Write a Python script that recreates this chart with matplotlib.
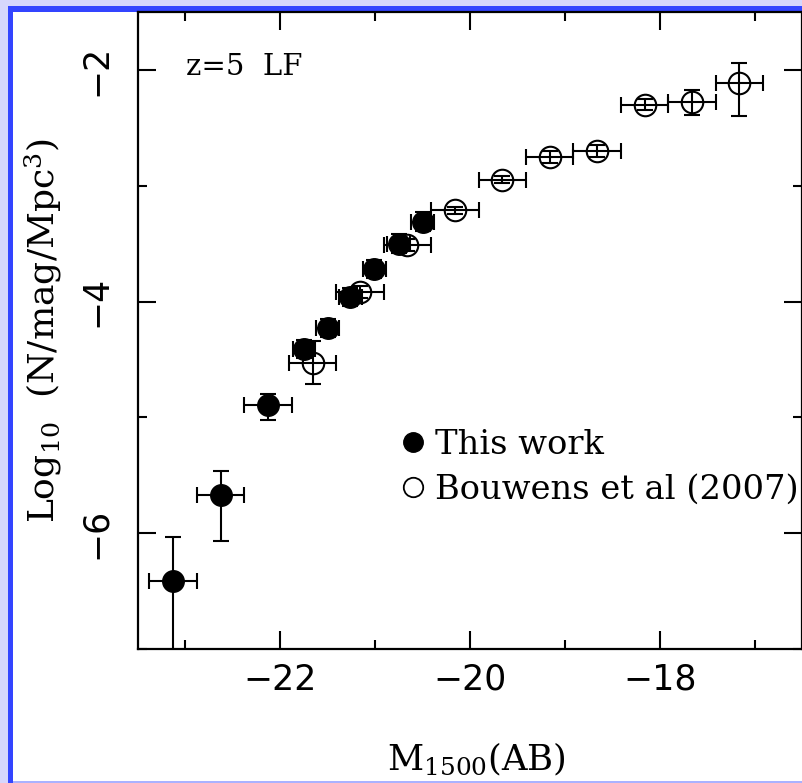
import matplotlib
matplotlib.use("Agg")
import matplotlib.pyplot as plt
from matplotlib.patches import Rectangle
from matplotlib.lines import Line2D
from matplotlib.ticker import MultipleLocator

# This work (filled)
mag_this = [-23.13, -22.63, -22.13, -21.75, -21.50, -21.26, -21.01, -20.75, -20.50]
logphi_this = [-6.41, -5.67, -4.89, -4.41, -4.23, -3.96, -3.72, -3.50, -3.31]
magerr_this = [0.25, 0.25, 0.25, 0.12, 0.12, 0.12, 0.12, 0.12, 0.12]
err_lo_this = [1.5, 0.40, 0.13, 0.08, 0.08, 0.08, 0.08, 0.08, 0.08]
err_hi_this = [0.38, 0.21, 0.09, 0.08, 0.08, 0.08, 0.08, 0.08, 0.08]

# Bouwens et al (2007) (open)
mag_b07 = [-21.66, -21.16, -20.66, -20.16, -19.66, -19.16, -18.66, -18.16, -17.66, -17.16]
logphi_b07 = [-4.53, -3.92, -3.51, -3.21, -2.95, -2.75, -2.70, -2.30, -2.28, -2.11]
magerr_b07 = [0.25] * 10
err_lo_b07 = [0.18, 0.05, 0.05, 0.03, 0.03, 0.05, 0.05, 0.05, 0.11, 0.29]
err_hi_b07 = [0.19, 0.05, 0.05, 0.03, 0.03, 0.05, 0.05, 0.05, 0.11, 0.17]

W, H = 803, 783
fig = plt.figure(figsize=(W / 100, H / 100), dpi=100)
fig.patch.set_facecolor("#d6d6fc")

# slide-style frame
fig.add_artist(Rectangle((8 / W, 0), 1, (H - 6) / H, transform=fig.transFigure,
                         facecolor="#3344ff", edgecolor="none", zorder=-3))
fig.add_artist(Rectangle((13 / W, 2 / H), 1, (H - 14) / H, transform=fig.transFigure,
                         facecolor="white", edgecolor="none", zorder=-2))
fig.add_artist(Rectangle((13 / W, 0), 1, 2 / H, transform=fig.transFigure,
                         facecolor="#aab2ff", edgecolor="none", zorder=-2))

ax = fig.add_axes([138 / W, (H - 649) / H, (802 - 138) / W, (649 - 12) / H])
ax.set_facecolor("white")

ekw = dict(fmt="o", ms=15.5, color="black", elinewidth=1.5, capsize=6, capthick=1.5)
ax.errorbar(mag_this, logphi_this, xerr=magerr_this, yerr=[err_lo_this, err_hi_this],
            mfc="black", mec="black", zorder=3, **ekw)
ax.errorbar(mag_b07, logphi_b07, xerr=magerr_b07, yerr=[err_lo_b07, err_hi_b07],
            mfc="none", mec="black", mew=1.5, zorder=4, **ekw)

ax.set_xlim(-23.5, -16.5)
ax.set_ylim(-7, -1.5)
ax.xaxis.set_major_locator(MultipleLocator(2))
ax.xaxis.set_minor_locator(MultipleLocator(1))
ax.yaxis.set_major_locator(MultipleLocator(2))
ax.yaxis.set_minor_locator(MultipleLocator(1))
ax.tick_params(which="both", direction="in", top=True, right=True, width=1.5)
ax.tick_params(which="major", length=13)
ax.tick_params(which="minor", length=6.5)
ax.tick_params(axis="x", labelsize=25, pad=10)
ax.tick_params(axis="y", labelsize=25, pad=18)
for lab in ax.get_yticklabels():
    lab.set_rotation(90)
    lab.set_va("center")
for sp in ax.spines.values():
    sp.set_linewidth(1.6)

plt.rcParams["mathtext.default"] = "regular"
ax.set_xlabel("M$_{1500}$(AB)", fontsize=25.5, family="DejaVu Serif")
ax.set_ylabel("Log$_{10}$  (N/mag/Mpc$^3$)", fontsize=26, family="DejaVu Serif")
ax.xaxis.set_label_coords(0.51, -0.145)
ax.yaxis.set_label_coords(-0.112, 0.5)

ax.text(0.073, 0.901, "z=5  LF", transform=ax.transAxes, fontsize=21,
        family="DejaVu Serif", va="baseline", ha="left")

handles = [Line2D([], [], ls="none", marker="o", ms=14, mfc="black", mec="black"),
           Line2D([], [], ls="none", marker="o", ms=14, mfc="none", mec="black", mew=1.3)]
ax.legend(handles, ["This work", "Bouwens et al (2007)"], loc="upper left",
          bbox_to_anchor=(0.394, 0.346), frameon=False, handlelength=0.8,
          handletextpad=0.26, labelspacing=0.38, borderpad=0, borderaxespad=0,
          prop={"family": "DejaVu Serif", "size": 24.3})

fig.savefig("out.png", dpi=100, facecolor=fig.get_facecolor())
